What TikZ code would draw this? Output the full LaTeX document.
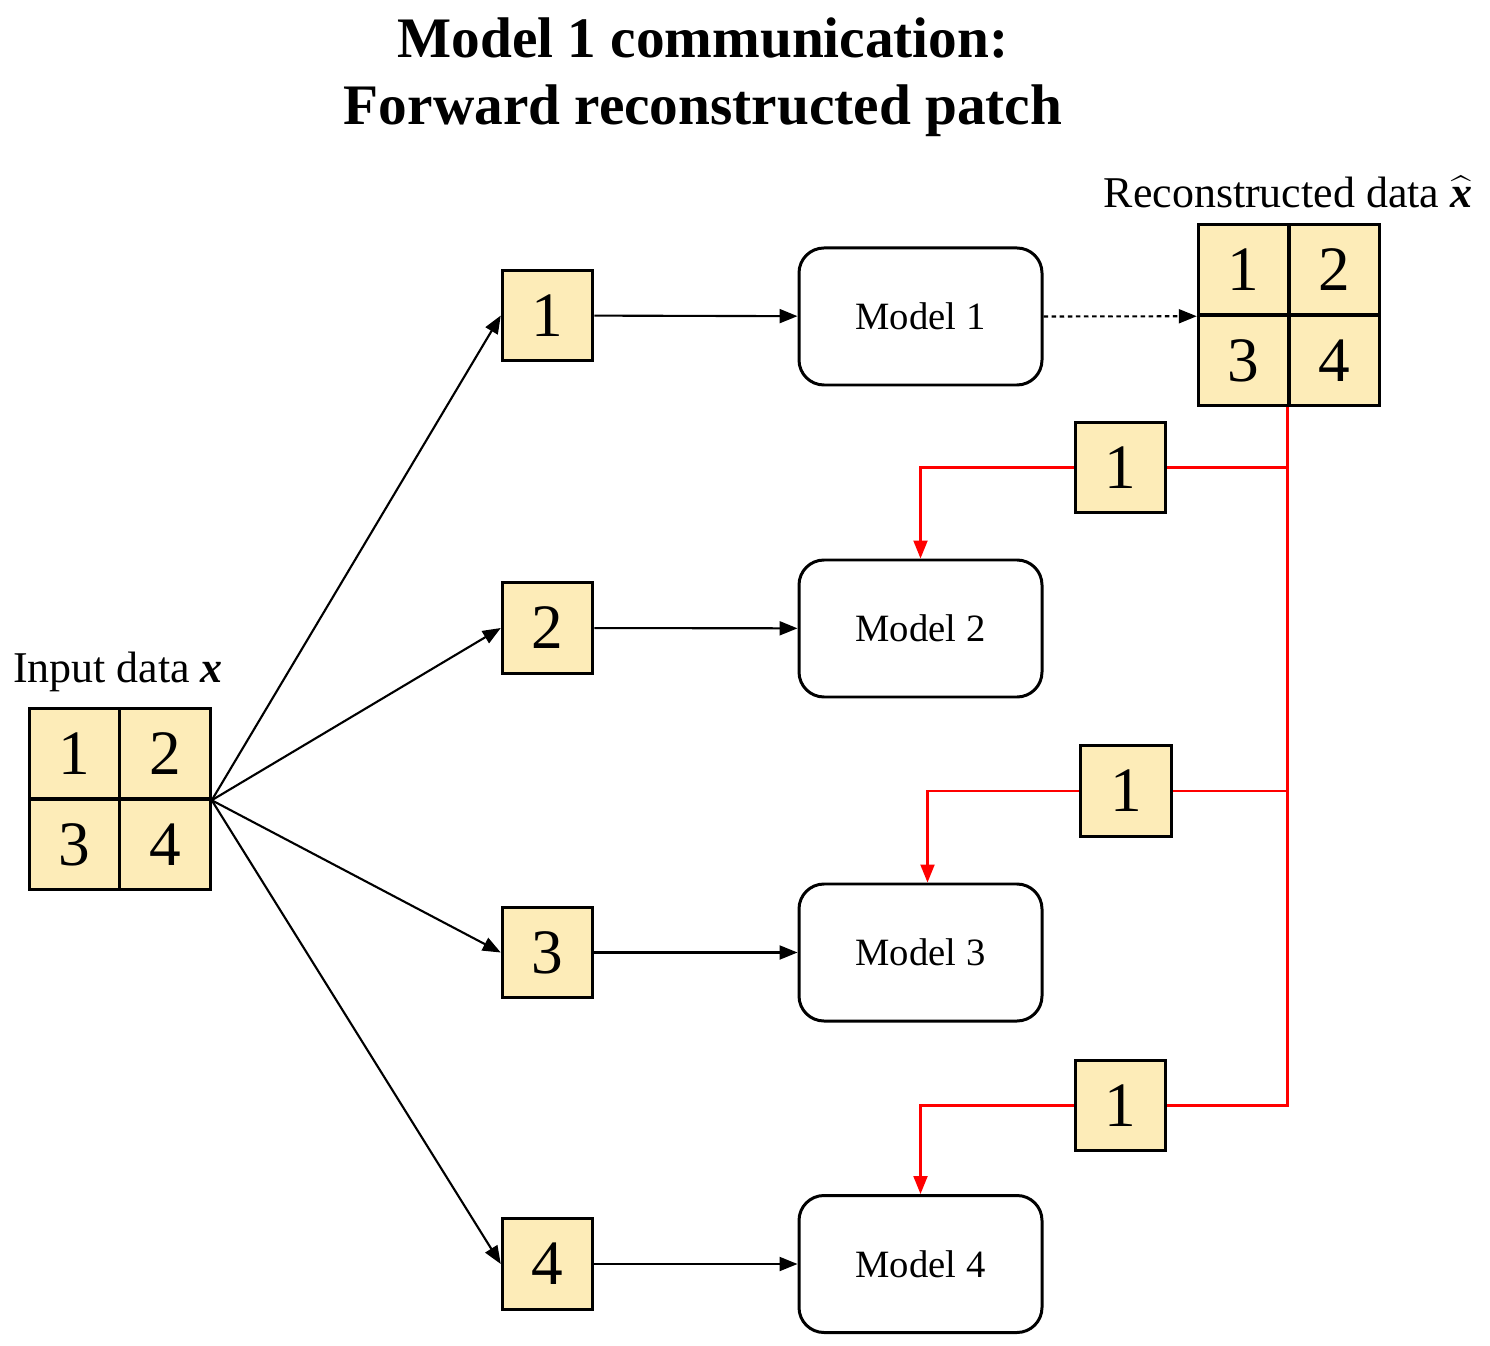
\documentclass[tikz,border=0pt]{standalone}
\usepackage{fontspec}
\setmainfont{Liberation Serif}
\usetikzlibrary{arrows.meta,calc}
\definecolor{patchfill}{HTML}{FDECB8}
\tikzset{
  cell/.style={draw, line width=0.85pt, fill=patchfill, minimum size=0.905cm, inner sep=0pt, font=\fontsize{18}{18}\selectfont},
  model/.style={draw, line width=0.85pt, rounded corners=0.25cm, minimum width=2.43cm, minimum height=1.37cm, font=\fontsize{11}{11}\selectfont},
  flow/.style={line width=0.6pt, -{Triangle[length=0.18cm,width=0.14cm]}},
  share/.style={red, line width=0.85pt},
  label/.style={font=\fontsize{12.5}{12.5}\selectfont}
}
\begin{document}
\begin{tikzpicture}
\useasboundingbox (0,0) rectangle (14.9,-13.46);

\node[align=center, font=\fontsize{16.3}{19}\selectfont\bfseries] (title) at (7.03,-0.77) {Model 1 communication:\\Forward reconstructed patch};

% input data
\node[label] (inlabel) at (1.18,-6.72) {Input data \textbf{\textit{x}}};
\node[cell] (x1) at (0.745,-7.535) {1};
\node[cell] (x2) at (1.650,-7.535) {2};
\node[cell] (x3) at (0.745,-8.445) {3};
\node[cell] (x4) at (1.650,-8.445) {4};
\coordinate (split) at (x2.south east);

% patches
\node[cell] (p1) at (5.475,-3.155) {1};
\node[cell] (p2) at (5.475,-6.28) {2};
\node[cell] (p3) at (5.475,-9.525) {3};
\node[cell] (p4) at (5.475,-12.64) {4};

% models
\node[model] (m1) at (9.205,-3.165) {Model 1};
\node[model] (m2) at (9.205,-6.285) {Model 2};
\node[model] (m3) at (9.205,-9.525) {Model 3};
\node[model] (m4) at (9.205,-12.64) {Model 4};

% reconstructed data
\node[label] (reclabel) at (12.88,-1.92) {Reconstructed data {\boldmath$\widehat{\mbox{\textbf{\textit{x}}}}$}};
\node[cell] (r1) at (12.435,-2.695) {1};
\node[cell] (r2) at (13.345,-2.695) {2};
\node[cell] (r3) at (12.435,-3.605) {3};
\node[cell] (r4) at (13.345,-3.605) {4};

% shared patch 1
\node[cell] (s2) at (11.205,-4.675) {1};
\node[cell] (s3) at (11.26,-7.91) {1};
\node[cell] (s4) at (11.205,-11.055) {1};

\path[draw,flow] (split) -- (p1.west);
\path[draw,flow] (split) -- (p2.west);
\path[draw,flow] (split) -- (p3.west);
\path[draw,flow] (split) -- (p4.west);
\path[draw,flow] (p1) -- (m1);
\path[draw,flow] (p2) -- (m2);
\path[draw,flow] (p3) -- (m3);
\path[draw,flow] (p4) -- (m4);
\path[draw,flow,dash pattern=on 1.3pt off 1pt] (m1.east) -- (r1.south west);

\path[draw,share] (r4.south west) |- (s4.east);
\path[draw,share] (s2.east) -- (s2.east -| r4.south west);
\path[draw,share] (s3.east) -- (s3.east -| r4.south west);
\path[draw,share,flow] (s2.west) -| (m2.north);
\path[draw,share,flow] (s3.west) -| ([xshift=0.07cm]m3.north);
\path[draw,share,flow] (s4.west) -| (m4.north);

\end{tikzpicture}
\end{document}
